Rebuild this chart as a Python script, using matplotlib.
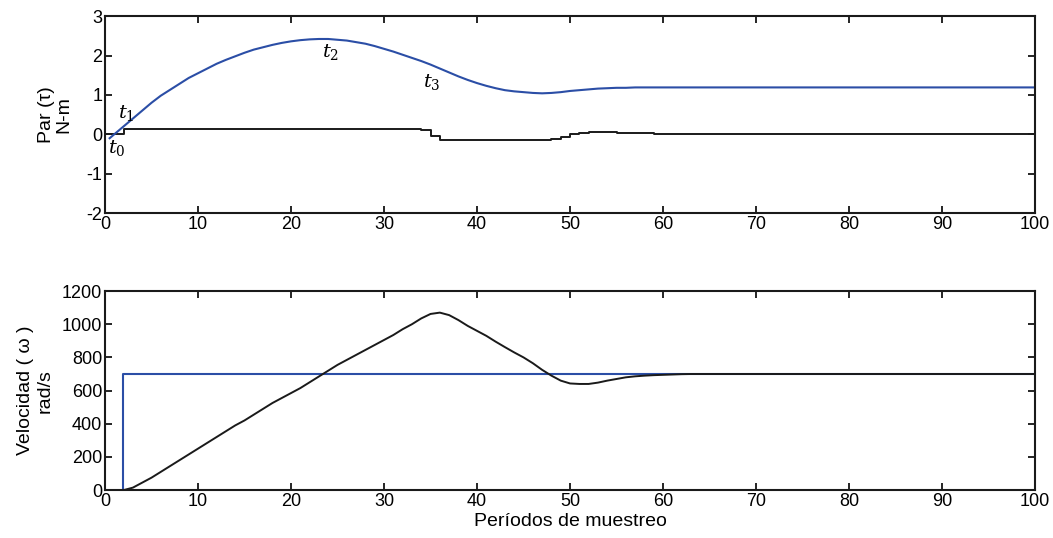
import numpy as np
import matplotlib.pyplot as plt

plt.rcParams['font.family'] = ['Liberation Sans', 'DejaVu Sans']
plt.rcParams['mathtext.fontset'] = 'dejavuserif'
plt.rcParams['axes.unicode_minus'] = False

# top plot: torque (par)
par_t = [0.5] + list(range(1, 101))
par_ref = [-0.1, 0.0, 0.2, 0.4, 0.6, 0.8, 0.98, 1.13, 1.28, 1.43, 1.55,
           1.67, 1.79, 1.89, 1.98, 2.07, 2.15, 2.21, 2.27, 2.32, 2.36,
           2.39, 2.41, 2.42, 2.42, 2.40, 2.38, 2.34, 2.30, 2.24, 2.17,
           2.10, 2.02, 1.94, 1.86, 1.77, 1.67, 1.57, 1.47, 1.38, 1.30,
           1.23, 1.17, 1.12, 1.09, 1.07, 1.05, 1.04, 1.05, 1.07, 1.10,
           1.12, 1.14, 1.16, 1.17, 1.18, 1.18] + [1.19] * 44

step_t = [0, 0, 2, 34, 35, 36, 48, 49, 50, 51, 52, 55, 59, 100]
step_val = [-0.65, 0.0, 0.14, 0.11, -0.04, -0.14, -0.12, -0.06, 0.0, 0.03, 0.05, 0.03, 0.0, 0.0]

# bottom plot: speed
vel_ref_t = [1.94, 1.94, 1.94, 100]
vel_ref = [0, 0, 700, 700]
vel_t = list(range(2, 101))
vel = [0, 15, 45, 75, 110, 145, 180, 215, 250, 285, 320, 355, 390, 420,
       455, 490, 525, 555, 585, 615, 650, 685, 720, 755, 785, 815, 845,
       875, 905, 935, 970, 1000, 1035, 1062, 1070, 1055, 1025, 990, 960,
       930, 895, 862, 830, 800, 765, 725, 690, 660, 643, 640, 640, 648,
       660, 670, 680, 686, 690, 693, 695, 697, 699] + [700] * 38

blue = '#2b4ea6'
dark = '#1a1a1a'

fig = plt.figure(figsize=(10.53, 5.38), dpi=100)
ax1 = fig.add_axes([0.0997, 0.604, 0.8833, 0.366])
ax2 = fig.add_axes([0.0997, 0.089, 0.8833, 0.370])

ax1.plot(step_t, step_val, color=dark, lw=1.4, drawstyle='steps-post')
ax1.plot(par_t, par_ref, color=blue, lw=1.5)
ax1.set_xlim(0, 100)
ax1.set_ylim(-2, 3)
ax1.set_xticks(range(0, 101, 10))
ax1.set_yticks(range(-2, 4))
ax1.set_ylabel('Par (τ)\nN-m', fontsize=14, linespacing=1.05, labelpad=10)

ax1.text(0.3, -0.35, '$t_0$', fontsize=14, ha='left', va='center')
ax1.text(1.4, 0.55, '$t_1$', fontsize=14, ha='left', va='center')
ax1.text(23.3, 2.08, '$t_2$', fontsize=14, ha='left', va='center')
ax1.text(34.2, 1.32, '$t_3$', fontsize=14, ha='left', va='center')

ax2.plot(vel_ref_t, vel_ref, color=blue, lw=1.5)
ax2.plot(vel_t, vel, color=dark, lw=1.4)
ax2.set_xlim(0, 100)
ax2.set_ylim(0, 1200)
ax2.set_xticks(range(0, 101, 10))
ax2.set_yticks(range(0, 1201, 200))
ax2.set_ylabel('Velocidad ( ω )\nrad/s', fontsize=14, linespacing=1.2, labelpad=6)
ax2.set_xlabel('Períodos de muestreo', fontsize=14, labelpad=2)

for ax in (ax1, ax2):
    ax.tick_params(direction='in', top=True, right=True, labelsize=13,
                   length=5, width=1.2, pad=2)
    for s in ax.spines.values():
        s.set_linewidth(1.5)
        s.set_color(dark)

fig.savefig('out.png', dpi=100)
